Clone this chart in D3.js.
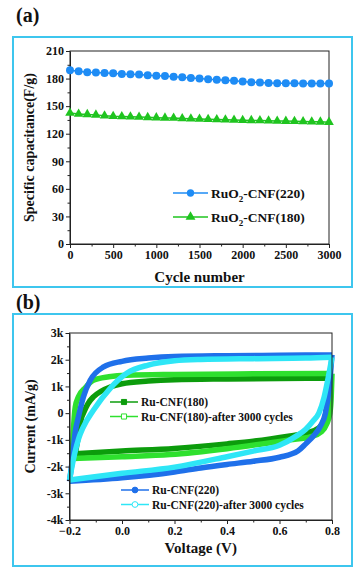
<!DOCTYPE html>
<html>
<head>
<meta charset="utf-8">
<script src="https://cdn.jsdelivr.net/npm/d3@7"></script>
<style>
  body { margin: 0; background: #fff; }
  svg { display: block; }
  text { font-family: "Liberation Serif", "Times New Roman", "DejaVu Serif", serif; font-weight: bold; fill: #111; }
</style>
</head>
<body>
<svg width="361" height="576"></svg>
<script>
// ---- panel (a) data: capacitance vs cycle ----
const cycles = [0, 100, 200, 300, 400, 500, 600, 700, 800, 900, 1000, 1100, 1200, 1300, 1400, 1500,
  1600, 1700, 1800, 1900, 2000, 2100, 2200, 2300, 2400, 2500, 2600, 2700, 2800, 2900, 3000];
const cap220 = [189.0, 187.9, 186.8, 186.5, 186.1, 185.8, 185.0, 184.7, 184.3, 183.6, 183.2, 182.9, 182.1,
  181.4, 180.7, 180.0, 179.3, 178.6, 178.2, 177.5, 176.8, 176.0, 175.6, 175.3, 174.9, 174.9, 174.9,
  174.6, 174.6, 174.6, 174.6];
const cap180 = [142.5, 141.5, 141.0, 140.5, 139.5, 139.0, 138.8, 138.5, 138.2, 137.8, 137.5, 137.2, 137.0,
  136.6, 136.3, 136.0, 135.7, 135.4, 135.1, 134.9, 134.7, 134.5, 134.3, 134.1, 133.9, 133.7, 133.5,
  133.3, 133.1, 132.9, 132.6];
const capTicks = [0, 30, 60, 90, 120, 150, 180, 210];
const cycleTicks = [0, 500, 1000, 1500, 2000, 2500, 3000];

// ---- panel (b) data: CV branches, [voltage V, current mA/g], each sorted by voltage ----
// anodic (upper) and cathodic (lower) branch of each loop
const cv220Up = [[-0.2, -2550], [-0.19, -1800], [-0.178, -700], [-0.166, -140], [-0.147, 610], [-0.121, 1230],
  [-0.07, 1730], [0.0, 1940], [0.1, 2060], [0.2, 2120], [0.4, 2150], [0.6, 2165], [0.8, 2180]];
const cv220Down = [[-0.2, -2550], [0.0, -2420], [0.2, -2200], [0.3, -2050], [0.4, -1920], [0.5, -1800],
  [0.6, -1650], [0.67, -1420], [0.70, -1150], [0.73, -850], [0.755, -500], [0.775, 0], [0.79, 1000], [0.8, 2180]];
const cv220afterUp = [[-0.2, -2500], [-0.18, -1500], [-0.165, -950], [-0.147, -510], [-0.109, 110],
  [-0.045, 930], [0.018, 1490], [0.1, 1800], [0.2, 1960], [0.3, 2010], [0.5, 2040], [0.7, 2060], [0.8, 2090]];
const cv220afterDown = [[-0.2, -2500], [0.0, -2250], [0.2, -2020], [0.4, -1630], [0.5, -1420], [0.6, -1200],
  [0.665, -850], [0.7, -600], [0.727, -300], [0.75, 0], [0.77, 600], [0.785, 1300], [0.8, 2090]];
const cv180Up = [[-0.178, -1520], [-0.165, -800], [-0.155, -200], [-0.147, 0], [-0.13, 350], [-0.109, 610],
  [-0.08, 820], [-0.045, 980], [0.0, 1100], [0.1, 1200], [0.2, 1250], [0.4, 1280], [0.6, 1300], [0.785, 1310]];
const cv180Down = [[-0.178, -1520], [0.0, -1420], [0.2, -1320], [0.4, -1150], [0.5, -1050], [0.64, -850],
  [0.7, -750], [0.75, -550], [0.77, -250], [0.779, 150], [0.783, 700], [0.785, 1310]];
const cv180afterUp = [[-0.19, -1700], [-0.186, -800], [-0.178, 230], [-0.166, 610], [-0.14, 950],
  [-0.109, 1230], [-0.05, 1360], [0.018, 1420], [0.2, 1450], [0.5, 1470], [0.8, 1480]];
const cv180afterDown = [[-0.19, -1700], [0.0, -1630], [0.183, -1550], [0.4, -1330], [0.64, -1000],
  [0.72, -880], [0.76, -700], [0.78, -400], [0.792, 0], [0.797, 600], [0.8, 1480]];
const voltTicks = [-0.2, 0.0, 0.2, 0.4, 0.6, 0.8];
const currTicks = [-4000, -3000, -2000, -1000, 0, 1000, 2000, 3000];

const svg = d3.select("svg");
const frameColor = "#3ec6ee";

// axis helper: major ticks with labels + unlabeled minor ticks, all outward
function drawAxis(g, axisFn, scale, major, minor, fmt) {
  g.call(axisFn(scale).tickValues(major).tickFormat(fmt).tickSize(4).tickSizeOuter(0).tickPadding(2));
  g.append("g").call(axisFn(scale).tickValues(minor).tickFormat("").tickSize(2.5).tickSizeOuter(0))
    .select(".domain").remove();
  g.attr("font-family", null);
  g.selectAll("path, line").attr("stroke", "#222").attr("stroke-width", 1);
  g.selectAll("text").attr("font-size", 12).attr("fill", "#111");
}

// ================= panel (a) =================
svg.append("text").attr("x", 16).attr("y", 22).attr("font-size", 20).text("(a)");
svg.append("rect").attr("x", 13).attr("y", 37).attr("width", 339).attr("height", 250)
  .attr("fill", "none").attr("stroke", frameColor).attr("stroke-width", 2);

const a = { l: 70, r: 329, t: 51, b: 244 };
const xA = d3.scaleLinear().domain([0, 3000]).range([a.l, a.r]);
const yA = d3.scaleLinear().domain([0, 210]).range([a.b, a.t]);

svg.append("rect").attr("x", a.l).attr("y", a.t).attr("width", a.r - a.l).attr("height", a.b - a.t)
  .attr("fill", "none").attr("stroke", "#222").attr("stroke-width", 1);
drawAxis(svg.append("g").attr("transform", `translate(0,${a.b})`), d3.axisBottom, xA,
  cycleTicks, d3.range(250, 3000, 500), d => d);
drawAxis(svg.append("g").attr("transform", `translate(${a.l},0)`), d3.axisLeft, yA,
  capTicks, d3.range(15, 210, 30), d => d);

svg.append("text").attr("x", (a.l + a.r) / 2).attr("y", 282).attr("text-anchor", "middle")
  .attr("font-size", 15).text("Cycle number");
svg.append("text").attr("transform", `translate(34,${(a.t + a.b) / 2}) rotate(-90)`)
  .attr("text-anchor", "middle").attr("font-size", 14).text("Specific capacitance(F/g)");

const blueA = "#1e8cf5", greenA = "#1fc41f";
const lineA = d3.line().x((d, i) => xA(cycles[i])).y(d => yA(d));
svg.append("path").datum(cap220).attr("d", lineA).attr("fill", "none").attr("stroke", blueA).attr("stroke-width", 1.5);
svg.append("path").datum(cap180).attr("d", lineA).attr("fill", "none").attr("stroke", greenA).attr("stroke-width", 1.5);
svg.append("g").selectAll("circle").data(cap220).join("circle")
  .attr("cx", (d, i) => xA(cycles[i])).attr("cy", d => yA(d)).attr("r", 4).attr("fill", blueA);
const tri = d3.symbol().type(d3.symbolTriangle).size(40);
svg.append("g").selectAll("path").data(cap180).join("path")
  .attr("transform", (d, i) => `translate(${xA(cycles[i])},${yA(d)})`).attr("d", tri).attr("fill", greenA);

// legend (a)
const legA = [
  { name: "CNF(220)", color: blueA, sym: d3.symbolCircle, y: 193 },
  { name: "CNF(180)", color: greenA, sym: d3.symbolTriangle, y: 217 }
];
legA.forEach(d => {
  svg.append("line").attr("x1", 173).attr("x2", 208).attr("y1", d.y).attr("y2", d.y)
    .attr("stroke", d.color).attr("stroke-width", 1.5);
  svg.append("path").attr("transform", `translate(190.5,${d.y})`)
    .attr("d", d3.symbol().type(d.sym).size(42)).attr("fill", d.color);
  const t = svg.append("text").attr("x", 211).attr("y", d.y + 4.5).attr("font-size", 13.5);
  t.append("tspan").text("RuO");
  t.append("tspan").attr("font-size", 9).attr("dy", 4).text("2");
  t.append("tspan").attr("dy", -4).text("-" + d.name);
});

// ================= panel (b) =================
svg.append("text").attr("x", 16).attr("y", 309).attr("font-size", 20).text("(b)");
svg.append("rect").attr("x", 13).attr("y", 314).attr("width", 339).attr("height", 252)
  .attr("fill", "none").attr("stroke", frameColor).attr("stroke-width", 2);

const b = { l: 69.5, r: 332, t: 333, b: 520 };
const xB = d3.scaleLinear().domain([-0.2, 0.8]).range([b.l, b.r]);
const yB = d3.scaleLinear().domain([-4000, 3000]).range([b.b, b.t]);

const cvLine = d3.line().x(d => xB(d[0])).y(d => yB(d[1])).curve(d3.curveMonotoneX);
const loops = [
  { up: cv180Up, down: cv180Down, color: "#0c9c0c" },
  { up: cv180afterUp, down: cv180afterDown, color: "#2ee02e" },
  { up: cv220Up, down: cv220Down, color: "#1f70ea" },
  { up: cv220afterUp, down: cv220afterDown, color: "#2ee6f6" }
];
loops.forEach(d => {
  [d.down, d.up].forEach(branch => {
    svg.append("path").datum(branch).attr("d", cvLine).attr("fill", "none")
      .attr("stroke", d.color).attr("stroke-width", 5.5).attr("stroke-linejoin", "round");
  });
});

svg.append("rect").attr("x", b.l).attr("y", b.t).attr("width", b.r - b.l).attr("height", b.b - b.t)
  .attr("fill", "none").attr("stroke", "#222").attr("stroke-width", 1);
drawAxis(svg.append("g").attr("transform", `translate(0,${b.b})`), d3.axisBottom, xB,
  voltTicks, [-0.1, 0.1, 0.3, 0.5, 0.7], d3.format(".1f"));
drawAxis(svg.append("g").attr("transform", `translate(${b.l},0)`), d3.axisLeft, yB,
  currTicks, d3.range(-3500, 3000, 1000), d => d === 0 ? "0" : d / 1000 + "k");

svg.append("text").attr("x", (b.l + b.r) / 2).attr("y", 553).attr("text-anchor", "middle")
  .attr("font-size", 15).text("Voltage (V)");
svg.append("text").attr("transform", `translate(35,${(b.t + b.b) / 2}) rotate(-90)`)
  .attr("text-anchor", "middle").attr("font-size", 14).text("Current (mA/g)");

// legend (b)
const legB = [
  { name: "Ru-CNF(180)", color: "#0c9c0c", sym: d3.symbolSquare, fill: true, x: 110, y: 402 },
  { name: "Ru-CNF(180)-after 3000 cycles", color: "#2ee02e", sym: d3.symbolSquare, fill: false, x: 110, y: 416.5 },
  { name: "Ru-CNF(220)", color: "#1f70ea", sym: d3.symbolCircle, fill: true, x: 121, y: 490 },
  { name: "Ru-CNF(220)-after 3000 cycles", color: "#2ee6f6", sym: d3.symbolCircle, fill: false, x: 121, y: 504.5 }
];
legB.forEach(d => {
  svg.append("line").attr("x1", d.x).attr("x2", d.x + 28).attr("y1", d.y).attr("y2", d.y)
    .attr("stroke", d.color).attr("stroke-width", 1.5);
  svg.append("path").attr("transform", `translate(${d.x + 14},${d.y})`)
    .attr("d", d3.symbol().type(d.sym).size(26))
    .attr("fill", d.fill ? d.color : "#fff").attr("stroke", d.color).attr("stroke-width", 1);
  svg.append("text").attr("x", d.x + 31).attr("y", d.y + 4).attr("font-size", 11.5).text(d.name);
});
</script>
</body>
</html>
